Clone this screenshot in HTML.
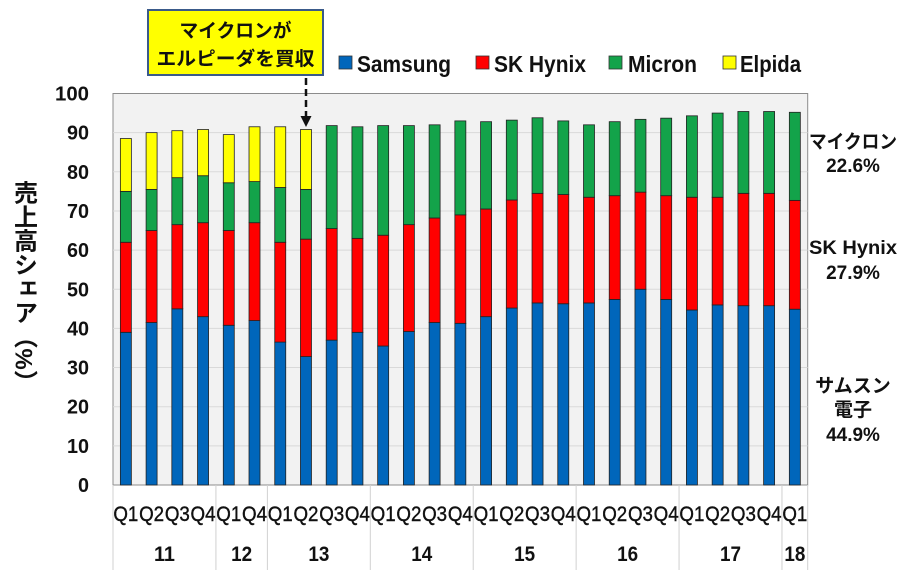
<!DOCTYPE html>
<html><head><meta charset="utf-8"><style>
body{margin:0;background:#fff;}
svg text{font-family:"Liberation Sans","Noto Sans CJK JP",sans-serif;}
</style></head><body>
<svg id="s" width="900" height="570" xmlns="http://www.w3.org/2000/svg">
<rect x="113" y="93.5" width="694.7" height="391.5" fill="#f2f2f2" stroke="#8c8c8c" stroke-width="1"/>
<g id="grid"></g>
<g id="bars"></g>
<g id="labels" font-weight="bold" font-size="20" fill="#111"></g>
<text x="23" y="287" font-size="24" font-weight="bold" fill="#111" style="writing-mode:vertical-rl" text-anchor="middle" font-family="'Noto Sans CJK JP',sans-serif">売上高シェア（%）</text>
<rect x="148" y="10" width="175" height="65" fill="#ffff00" stroke="#3a5a8a" stroke-width="2"/>
<text x="235.5" y="37" font-size="19" font-weight="bold" text-anchor="middle" fill="#111" textLength="112" lengthAdjust="spacingAndGlyphs">マイクロンが</text>
<text x="235.5" y="65" font-size="19" font-weight="bold" text-anchor="middle" fill="#111" textLength="158" lengthAdjust="spacingAndGlyphs">エルピーダを買収</text>
<line x1="306" y1="78" x2="306" y2="118" stroke="#111" stroke-width="2.5" stroke-dasharray="7,4"/>
<polygon points="300.5,116 311.5,116 306,127" fill="#111"/>
<g font-size="23" font-weight="bold" fill="#111">
<rect x="339" y="56" width="13" height="13" fill="#0066bb" stroke="#333" stroke-width="0.8"/><text x="357" y="72" textLength="94" lengthAdjust="spacingAndGlyphs">Samsung</text>
<rect x="476" y="56" width="13" height="13" fill="#ff0000" stroke="#333" stroke-width="0.8"/><text x="494" y="72" textLength="92" lengthAdjust="spacingAndGlyphs">SK Hynix</text>
<rect x="609" y="56" width="13" height="13" fill="#13a34a" stroke="#333" stroke-width="0.8"/><text x="628" y="72" textLength="69" lengthAdjust="spacingAndGlyphs">Micron</text>
<rect x="723" y="56" width="13" height="13" fill="#ffff00" stroke="#333" stroke-width="0.8"/><text x="740" y="72" textLength="61" lengthAdjust="spacingAndGlyphs">Elpida</text>
</g>
<g font-size="19" font-weight="bold" fill="#111" text-anchor="middle">
<text x="853" y="148" textLength="88" lengthAdjust="spacingAndGlyphs">マイクロン</text><text x="853" y="172">22.6%</text>
<text x="853" y="254" textLength="88" lengthAdjust="spacingAndGlyphs">SK Hynix</text><text x="853" y="279">27.9%</text>
<text x="853" y="392">サムスン</text><text x="853" y="416">電子</text><text x="853" y="441">44.9%</text>
</g>
</svg>
<script>
const ns="http://www.w3.org/2000/svg",s=document.getElementById('s');
function el(p,t,a,txt){const e=document.createElementNS(ns,t);for(const k in a)e.setAttribute(k,a[k]);if(txt!==undefined)e.textContent=txt;document.getElementById(p).appendChild(e);}
const Y=v=>485-v*3.915;
for(let v=10;v<=90;v+=10)el('grid','line',{x1:113,x2:807.7,y1:Y(v),y2:Y(v),stroke:'#d9d9d9','stroke-width':1});
for(let v=0;v<=100;v+=10)el('labels','text',{x:89,y:Y(v)+7,'text-anchor':'end',textLength:v==100?34:(v==0?11:22),lengthAdjust:'spacingAndGlyphs'},v);
const d=[[39,62,75,88.5],[41.5,65,75.5,90],[45,66.5,78.5,90.5],[43,67,79,90.8],[40.8,65,77.2,89.5],[42,67,77.5,91.5],[36.5,62,76,91.5],[32.8,62.8,75.5,90.8],
[37,65.5,91.8],[39,63,91.5],[35.5,63.8,91.8],[39.2,66.5,91.8],[41.5,68.2,92],[41.3,69,93],[43,70.5,92.8],[45.2,72.8,93.2],[46.5,74.5,93.8],[46.3,74.2,93],
[46.5,73.5,92],[47.4,73.9,92.8],[50,74.8,93.4],[47.4,73.9,93.7],[44.7,73.5,94.3],[46,73.5,95],[45.8,74.5,95.4],[45.8,74.5,95.4],[44.9,72.7,95.2]];
const cols=['#0066bb','#ff0000','#13a34a','#ffff00'];const sl=694.7/27;
const q=['Q1','Q2','Q3','Q4','Q1','Q4','Q1','Q2','Q3','Q4','Q1','Q2','Q3','Q4','Q1','Q2','Q3','Q4','Q1','Q2','Q3','Q4','Q1','Q2','Q3','Q4','Q1'];
d.forEach((b,i)=>{const cx=113+sl*(i+0.5);let prev=0;b.forEach((v,j)=>{el('bars','rect',{x:cx-5.5,y:Y(v),width:11,height:Y(prev)-Y(v),fill:cols[j],stroke:'#222','stroke-width':0.8});prev=v;});
el('labels','text',{x:cx,y:521,'text-anchor':'middle','font-size':21,'font-weight':'normal',stroke:'#111','stroke-width':0.4,textLength:25,lengthAdjust:'spacingAndGlyphs'},q[i]);});
const b=[0,4,6,10,14,18,22,26,27];
b.forEach(i=>el('grid','line',{x1:113+sl*i,x2:113+sl*i,y1:485,y2:570,stroke:'#d0d0d0','stroke-width':1}));
const yrs=['11','12','13','14','15','16','17','18'];
yrs.forEach((y,k)=>el('labels','text',{x:113+sl*(b[k]+b[k+1])/2,y:561,'text-anchor':'middle','font-size':21,textLength:21,lengthAdjust:'spacingAndGlyphs'},y));
</script>
</body></html>
